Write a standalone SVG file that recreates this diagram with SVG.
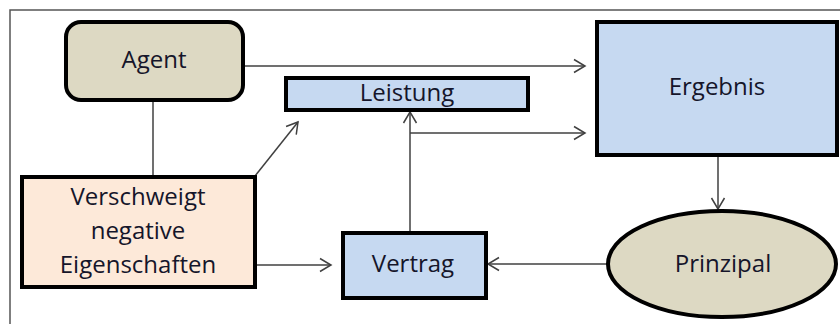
<svg xmlns="http://www.w3.org/2000/svg" width="840" height="324" viewBox="0 0 840 324">
<defs>
<marker id="arr" markerUnits="userSpaceOnUse" markerWidth="14" markerHeight="16" viewBox="0 0 14 16" refX="12" refY="8" orient="auto">
<path d="M1,1.5 L12,8 L1,14.5" fill="none" stroke="#404040" stroke-width="1.5"/>
</marker>
</defs>
<style>
.node{stroke:#000;stroke-width:4}
.lbl{font-family:"Open Sans","Noto Sans",sans-serif;font-size:24px;fill:#15152a;text-anchor:middle}
.con{stroke:#404040;stroke-width:1.5;fill:none}
.arr{marker-end:url(#arr)}
</style>
<rect width="840" height="324" fill="#fff"/>
<path d="M10,324 V10 H840" fill="none" stroke="#555" stroke-width="1.5"/>
<g id="connectors">
<line class="con arr" x1="243" y1="66" x2="585" y2="66"/>
<line class="con" x1="153" y1="100" x2="153" y2="176"/>
<line class="con arr" x1="255" y1="176" x2="298" y2="122"/>
<line class="con arr" x1="255" y1="265" x2="331" y2="265"/>
<line class="con arr" x1="410" y1="232" x2="410" y2="112"/>
<line class="con arr" x1="410" y1="133" x2="585" y2="133"/>
<line class="con arr" x1="718" y1="157" x2="718" y2="209"/>
<line class="con arr" x1="607" y1="264" x2="488" y2="264"/>
</g>
<g id="agent">
<rect class="node" x="66" y="22" width="177" height="78" rx="15" fill="#ddd9c3"/>
<text class="lbl" x="154" y="68">Agent</text>
</g>
<g id="leistung">
<rect class="node" x="286" y="78" width="242" height="32" fill="#c6d9f1"/>
<text class="lbl" x="407" y="101">Leistung</text>
</g>
<g id="ergebnis">
<rect class="node" x="597" y="22" width="240" height="133" fill="#c6d9f1"/>
<text class="lbl" x="717" y="95">Ergebnis</text>
</g>
<g id="verschweigt">
<rect class="node" x="22" y="177" width="233" height="110" fill="#fde9d9"/>
<text class="lbl" x="138" y="205">Verschweigt</text>
<text class="lbl" x="138" y="239">negative</text>
<text class="lbl" x="138" y="273">Eigenschaften</text>
</g>
<g id="vertrag">
<rect class="node" x="343" y="233" width="143" height="65" fill="#c6d9f1"/>
<text class="lbl" x="413" y="272">Vertrag</text>
</g>
<g id="prinzipal">
<ellipse class="node" cx="722" cy="264" rx="114" ry="53" fill="#ddd9c3"/>
<text class="lbl" x="723" y="272">Prinzipal</text>
</g>
</svg>
